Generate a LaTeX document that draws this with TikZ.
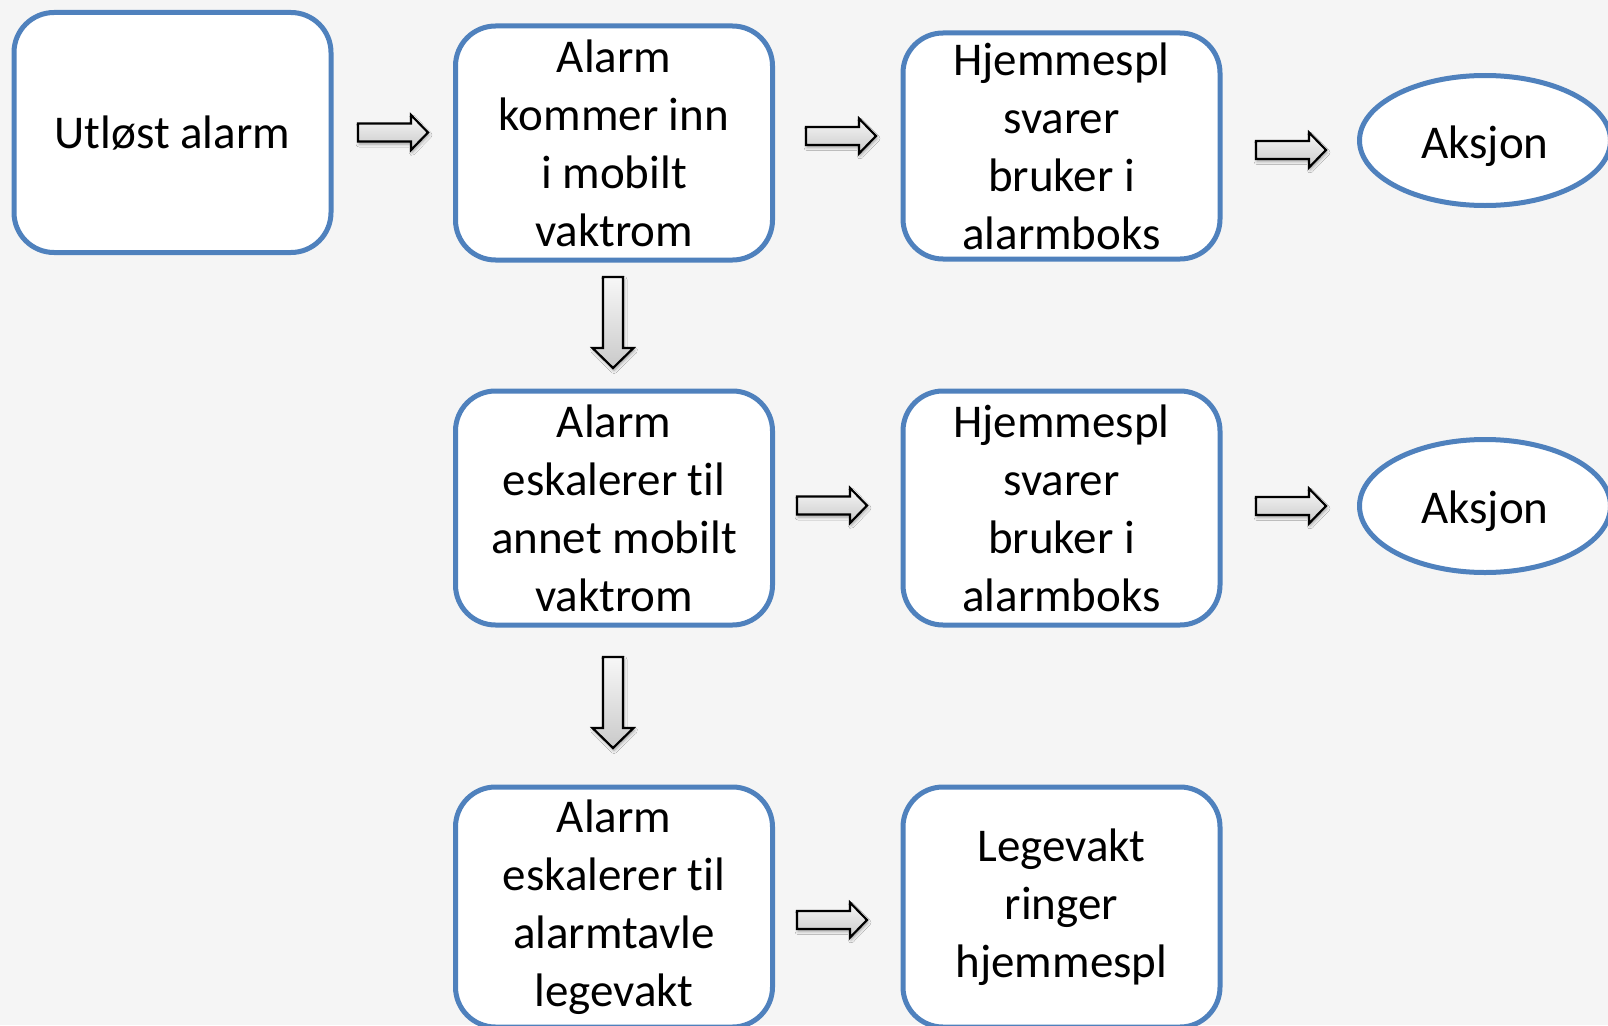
\documentclass[tikz,border=0pt]{standalone}
\usepackage{fontspec}
\setmainfont[Ligatures=NoCommon]{Carlito}
\usetikzlibrary{shapes.geometric,shadows.blur}
\definecolor{bg}{RGB}{245,245,245}
\definecolor{boxblue}{RGB}{79,129,189}
\begin{document}
\begin{tikzpicture}[x=1pt,y=-1pt,
  txt/.style={font=\fontsize{47}{58}\selectfont},
  box/.style={txt, draw=boxblue, line width=5pt, fill=white, rounded corners=40pt,
    align=center, inner sep=0pt, minimum width=317pt, minimum height=234pt},
  oval/.style={txt, ellipse, draw=boxblue, line width=5pt, fill=white, inner sep=0pt,
    minimum width=251pt, minimum height=131pt, text height=35pt, text depth=0pt},
  barrow/.style={draw=black, line width=2.2pt, line join=miter, top color=gray!6, bottom color=gray!42,
    blur shadow={shadow xshift=1pt, shadow yshift=-2.5pt, shadow blur radius=3pt, shadow opacity=35}},
  rarr/.pic={\path[barrow] (0,-9) -- (53,-9) -- (53,-17.5) -- (70,0) -- (53,17.5) -- (53,9) -- (0,9) -- cycle;},
  darr/.pic={\path[barrow] (-10,0) -- (10,0) -- (10,71) -- (20.5,71) -- (0,91) -- (-20.5,71) -- (-10,71) -- cycle;}
]
\useasboundingbox (0,0) rectangle (1608,1025);
\fill[bg] (0,0) rectangle (1608,1025);

% row 1
\node[box, minimum height=240pt, text height=31pt, text depth=0pt] (utlost) at (172.5,132.5) {Utløst alarm};
\node[box] (kommer) at (614,143) {Alarm\\kommer inn\\i mobilt\\vaktrom};
\node[box, minimum height=226pt] (svarer1) at (1061.5,146) {Hjemmespl\\svarer\\bruker i\\alarmboks};
\node[oval, minimum height=130pt] (aksjon1) at (1485,140.5) {Aksjon};

% row 2
\node[box] (eskaler1) at (614,508) {Alarm\\eskalerer til\\annet mobilt\\vaktrom};
\node[box] (svarer2) at (1061.5,508) {Hjemmespl\\svarer\\bruker i\\alarmboks};
\node[oval, minimum height=133pt] (aksjon2) at (1485,506) {Aksjon};

% row 3
\node[box, minimum height=240pt] (eskaler2) at (614,907) {Alarm\\eskalerer til\\alarmtavle\\legevakt};
\node[box, minimum height=240pt] (legevakt) at (1061.5,907) {Legevakt\\ringer\\hjemmespl};

% block arrows
\pic at (358,132.5) {rarr};
\pic at (806,136) {rarr};
\pic at (1256,150) {rarr};
\pic at (797,505.5) {rarr};
\pic at (1256,506) {rarr};
\pic at (797,920) {rarr};
\pic at (613,277) {darr};
\pic at (613,657) {darr};
\end{tikzpicture}
\end{document}
